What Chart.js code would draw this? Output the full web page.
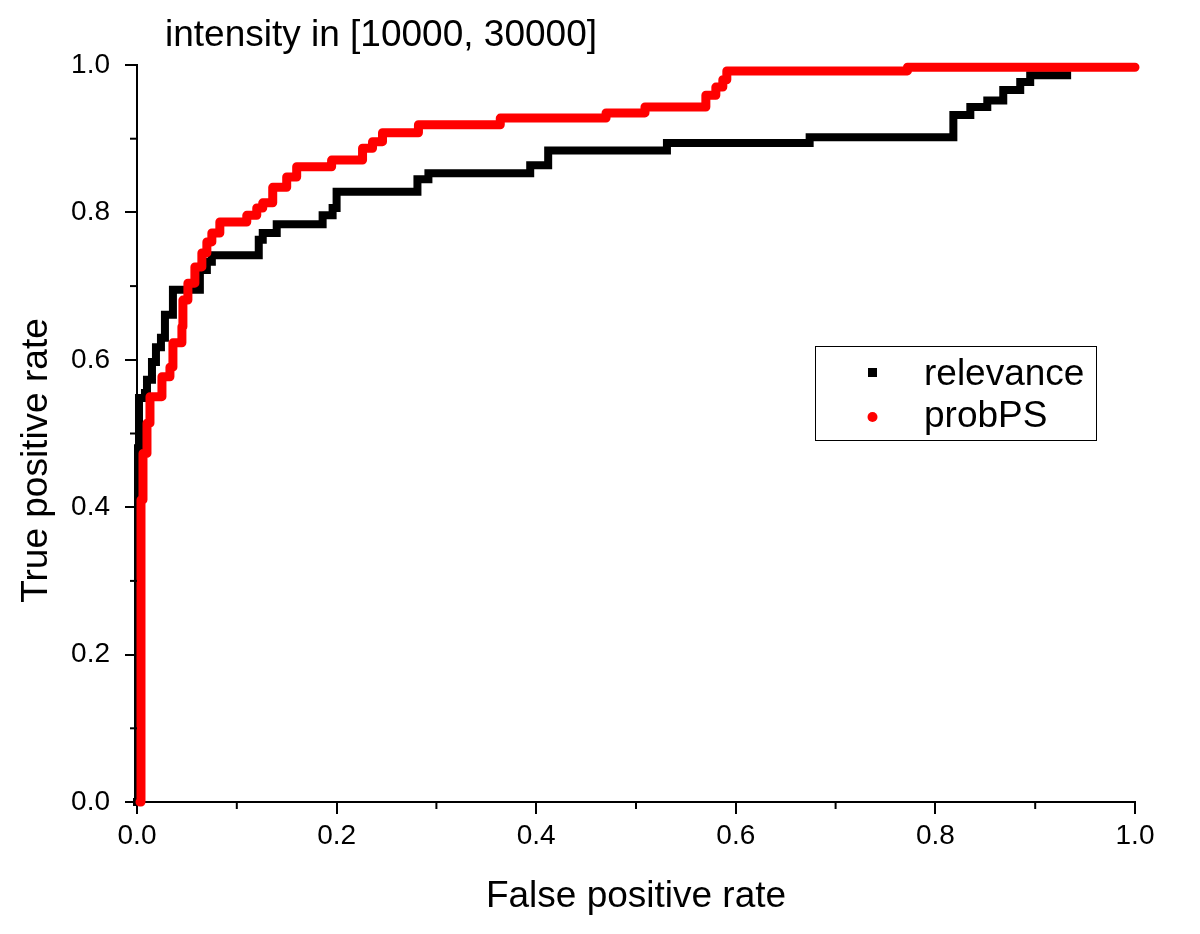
<!DOCTYPE html>
<html>
<head>
<meta charset="utf-8">
<script src="https://cdn.jsdelivr.net/npm/chart.js@4.4.1/dist/chart.umd.min.js"></script>
<style>
  html, body { margin: 0; padding: 0; background: #fff; }
</style>
</head>
<body>
<canvas id="chart" width="1200" height="934"></canvas>
<script>
const chartTitle = "intensity in [10000, 30000]";
const xTitle = "False positive rate";
const yTitle = "True positive rate";
const seriesNames = ["relevance", "probPS"];
const seriesColors = ["#000000", "#ff0000"];
const majorTicks = [0, 0.2, 0.4, 0.6, 0.8, 1.0];
const minorTicks = [0.1, 0.3, 0.5, 0.7, 0.9];

// relevance (black squares) - step corners
const relevanceFpr = [0, 0.001, 0.002, 0.008, 0.010, 0.015, 0.019, 0.024, 0.028, 0.036, 0.063, 0.070, 0.075,
  0.122, 0.126, 0.140, 0.186, 0.196, 0.200, 0.281, 0.292, 0.394, 0.412, 0.531, 0.674, 0.818, 0.835, 0.852,
  0.868, 0.885, 0.895, 0.932];
const relevanceTpr = [0, 0.480, 0.548, 0.555, 0.573, 0.597, 0.617, 0.630, 0.661, 0.695, 0.722, 0.733, 0.742,
  0.763, 0.772, 0.784, 0.796, 0.806, 0.828, 0.845, 0.853, 0.864, 0.884, 0.894, 0.902, 0.932, 0.943, 0.952,
  0.966, 0.977, 0.986, 0.986];

// probPS (red circles)
const probFpr = [0.003, 0.004, 0.006, 0.010, 0.013, 0.025, 0.033, 0.036, 0.045, 0.046, 0.051, 0.058, 0.065,
  0.070, 0.075, 0.083, 0.110, 0.120, 0.126, 0.136, 0.150, 0.160, 0.195, 0.226, 0.236, 0.246, 0.282, 0.364,
  0.470, 0.509, 0.570, 0.580, 0.587, 0.591, 0.772, 1.0];
const probTpr = [0, 0.410, 0.473, 0.514, 0.550, 0.577, 0.590, 0.623, 0.645, 0.681, 0.704, 0.726, 0.745,
  0.760, 0.772, 0.787, 0.796, 0.806, 0.813, 0.834, 0.848, 0.862, 0.871, 0.887, 0.896, 0.908, 0.919, 0.928,
  0.935, 0.943, 0.959, 0.970, 0.980, 0.992, 0.997, 0.997];

const FONT = '"Liberation Sans", Arial, sans-serif';

function toPoints(xs, ys) {
  return xs.map((x, i) => ({ x: x, y: ys[i] }));
}

// minor ticks, rotated y title, plot title and legend box
const extras = {
  id: "extras",
  afterDraw(chart) {
    const { ctx, chartArea, scales } = chart;
    ctx.save();
    ctx.strokeStyle = "#000";
    ctx.lineWidth = 2;
    minorTicks.forEach((v) => {
      const px = scales.x.getPixelForValue(v);
      ctx.beginPath();
      ctx.moveTo(px, chartArea.bottom);
      ctx.lineTo(px, chartArea.bottom + 7);
      ctx.stroke();
      const py = scales.y.getPixelForValue(v);
      ctx.beginPath();
      ctx.moveTo(chartArea.left, py);
      ctx.lineTo(chartArea.left - 7, py);
      ctx.stroke();
    });

    ctx.fillStyle = "#000";
    ctx.font = "37px " + FONT;
    ctx.textAlign = "left";
    ctx.textBaseline = "alphabetic";
    ctx.fillText(chartTitle, chartArea.left + 28, 46);

    ctx.save();
    ctx.translate(47, (chartArea.top + chartArea.bottom) / 2 + 27);
    ctx.rotate(-Math.PI / 2);
    ctx.textAlign = "center";
    ctx.fillText(yTitle, 0, 0);
    ctx.restore();

    // legend
    ctx.lineWidth = 1;
    ctx.strokeRect(815.5, 346.5, 281, 94);
    const rows = [372.5, 417];
    chart.data.datasets.forEach((ds, i) => {
      const cy = rows[i];
      ctx.fillStyle = ds.borderColor;
      if (ds.pointStyle === "rect") {
        ctx.fillRect(868, cy - 4.5, 9, 9);
      } else {
        ctx.beginPath();
        ctx.arc(872.5, cy, 5, 0, Math.PI * 2);
        ctx.fill();
      }
      ctx.fillStyle = "#000";
      ctx.fillText(ds.label, 924, cy + (i === 0 ? 12.5 : 10));
    });
    ctx.restore();
  }
};

function axis(extra) {
  return Object.assign({
    type: "linear",
    min: 0,
    max: 1,
    afterBuildTicks: (s) => { s.ticks = majorTicks.map((v) => ({ value: v })); },
    grid: {
      drawOnChartArea: false,
      drawTicks: true,
      tickLength: 12,
      color: "#000",
      lineWidth: 2
    },
    border: { display: true, color: "#000", width: 2 }
  }, extra);
}

new Chart(document.getElementById("chart"), {
  type: "scatter",
  data: {
    datasets: [
      {
        label: seriesNames[0],
        data: toPoints(relevanceFpr, relevanceTpr),
        showLine: true,
        stepped: true,
        borderColor: seriesColors[0],
        backgroundColor: seriesColors[0],
        borderWidth: 8,
        borderJoinStyle: "miter",
        borderCapStyle: "square",
        pointRadius: 0,
        pointStyle: "rect",
        clip: false,
        order: 1
      },
      {
        label: seriesNames[1],
        data: toPoints(probFpr, probTpr),
        showLine: true,
        stepped: true,
        borderColor: seriesColors[1],
        backgroundColor: seriesColors[1],
        borderWidth: 9,
        borderJoinStyle: "round",
        borderCapStyle: "round",
        pointRadius: 0,
        pointStyle: "circle",
        clip: false,
        order: 0
      }
    ]
  },
  options: {
    responsive: false,
    animation: false,
    devicePixelRatio: 1,
    layout: { padding: { top: 65, right: 65, left: 0, bottom: 0 } },
    plugins: {
      legend: { display: false },
      tooltip: { enabled: false }
    },
    scales: {
      x: axis({
        position: "bottom",
        afterFit: (s) => { s.height = 132; },
        ticks: {
          color: "#000",
          font: { family: FONT, size: 28 },
          maxRotation: 0,
          padding: 5,
          callback: (v) => Number(v).toFixed(1)
        },
        title: {
          display: true,
          text: xTitle,
          color: "#000",
          font: { family: FONT, size: 37 },
          padding: { top: 0, bottom: 15 }
        }
      }),
      y: axis({
        position: "left",
        afterFit: (s) => { s.width = 137; },
        ticks: {
          color: "#000",
          font: { family: FONT, size: 28 },
          padding: 15,
          callback: (v) => Number(v).toFixed(1)
        }
      })
    }
  },
  plugins: [extras]
});
</script>
</body>
</html>
